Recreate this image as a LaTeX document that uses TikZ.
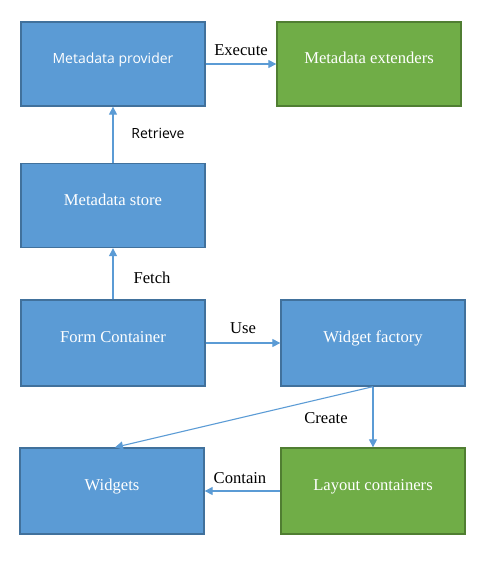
\documentclass[tikz,border=0pt]{standalone}
\usepackage{fontspec}
\setmainfont{Liberation Serif}
\newfontfamily\uisans{Open Sans}
\usetikzlibrary{arrows.meta}
\definecolor{bfill}{HTML}{5B9BD5}
\definecolor{bdraw}{HTML}{41719C}
\definecolor{gfill}{HTML}{70AD47}
\definecolor{gdraw}{HTML}{507E32}
\definecolor{arr}{HTML}{5B9BD5}
\tikzset{
  box/.style={draw=bdraw, fill=bfill, line width=1.3pt, minimum width=184pt, minimum height=84pt,
    inner sep=0pt, text=white, font=\fontsize{16.6}{18}\selectfont, text height=11pt, text depth=12pt},
  gbox/.style={box, draw=gdraw, fill=gfill},
  conn/.style={draw=arr, line width=1.1pt, -{Triangle[length=8pt,width=8pt]}},
  lbl/.style={font=\fontsize{16.6}{18}\selectfont, inner sep=0pt, text=black}
}
\begin{document}
\begin{tikzpicture}[x=1pt,y=-1pt]
\useasboundingbox (0,0) rectangle (484,561);
\node[box, font=\uisans\fontsize{14}{16}\selectfont] (prov) at (113,64) {Metadata provider};
\node[gbox] (ext) at (369,64) {Metadata extenders};
\node[box] (store) at (113,205.5) {Metadata store};
\node[box, minimum height=86pt] (form) at (113,343) {Form Container};
\node[box, minimum height=86pt] (fact) at (373,343) {Widget factory};
\node[box, minimum height=86pt] (wid) at (112,491) {Widgets};
\node[gbox, minimum height=86pt] (lay) at (373,491) {Layout containers};
\draw[conn] (store.north) -- (prov.south);
\draw[conn] (prov.east) -- (ext.west);
\draw[conn] (form.north) -- (store.south);
\draw[conn] (form.east) -- (fact.west);
\draw[conn] (fact.south) -- (lay.north);
\draw[conn] (fact.south) -- ([xshift=3pt]wid.north);
\draw[conn] (lay.west) -- (wid.east);
\node[lbl] (l1) at (241,50) {Execute};
\node[lbl, font=\uisans\fontsize{14}{16}\selectfont] (l2) at (158,133) {Retrieve};
\node[lbl] (l3) at (152,278) {Fetch};
\node[lbl] (l4) at (243,328) {Use};
\node[lbl] (l5) at (326,418) {Create};
\node[lbl] (l6) at (240,478) {Contain};
\end{tikzpicture}
\end{document}
